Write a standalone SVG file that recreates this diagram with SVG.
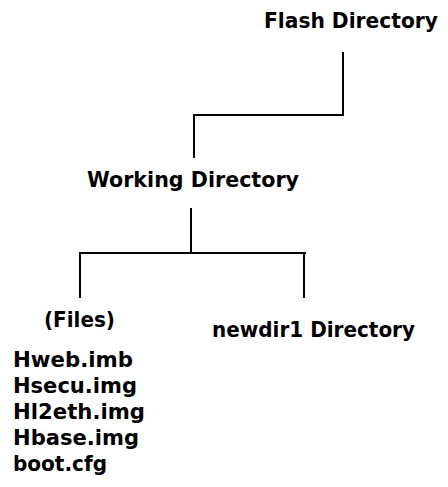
<svg xmlns="http://www.w3.org/2000/svg" width="448" height="487" viewBox="0 0 448 487">
<style>
text{font-family:"DejaVu Sans","Liberation Sans",sans-serif;font-weight:bold;font-size:21.5px;fill:#000}
.c{stroke:#000;stroke-width:2;fill:none}
</style>
<rect width="448" height="487" fill="#fff"/>
<g id="connectors">
<path class="c" d="M343 52V115H194V158"/>
<path class="c" d="M191 208V253"/>
<path class="c" d="M80 298V253H306M304 253V298"/>
</g>
<g id="flash"><text x="264" y="28" textLength="174" lengthAdjust="spacingAndGlyphs">Flash Directory</text></g>
<g id="working"><text x="87" y="187" textLength="212" lengthAdjust="spacingAndGlyphs">Working Directory</text></g>
<g id="files">
<text x="44" y="327" textLength="71" lengthAdjust="spacingAndGlyphs">(Files)</text>
<text x="13" y="367" textLength="120" lengthAdjust="spacingAndGlyphs">Hweb.imb</text>
<text x="13" y="393" textLength="124" lengthAdjust="spacingAndGlyphs">Hsecu.img</text>
<text x="13" y="419" textLength="132" lengthAdjust="spacingAndGlyphs">Hl2eth.img</text>
<text x="13" y="445" textLength="126" lengthAdjust="spacingAndGlyphs">Hbase.img</text>
<text x="13" y="471" textLength="94" lengthAdjust="spacingAndGlyphs">boot.cfg</text>
</g>
<g id="newdir1"><text x="212" y="337" textLength="203" lengthAdjust="spacingAndGlyphs">newdir1 Directory</text></g>
</svg>
